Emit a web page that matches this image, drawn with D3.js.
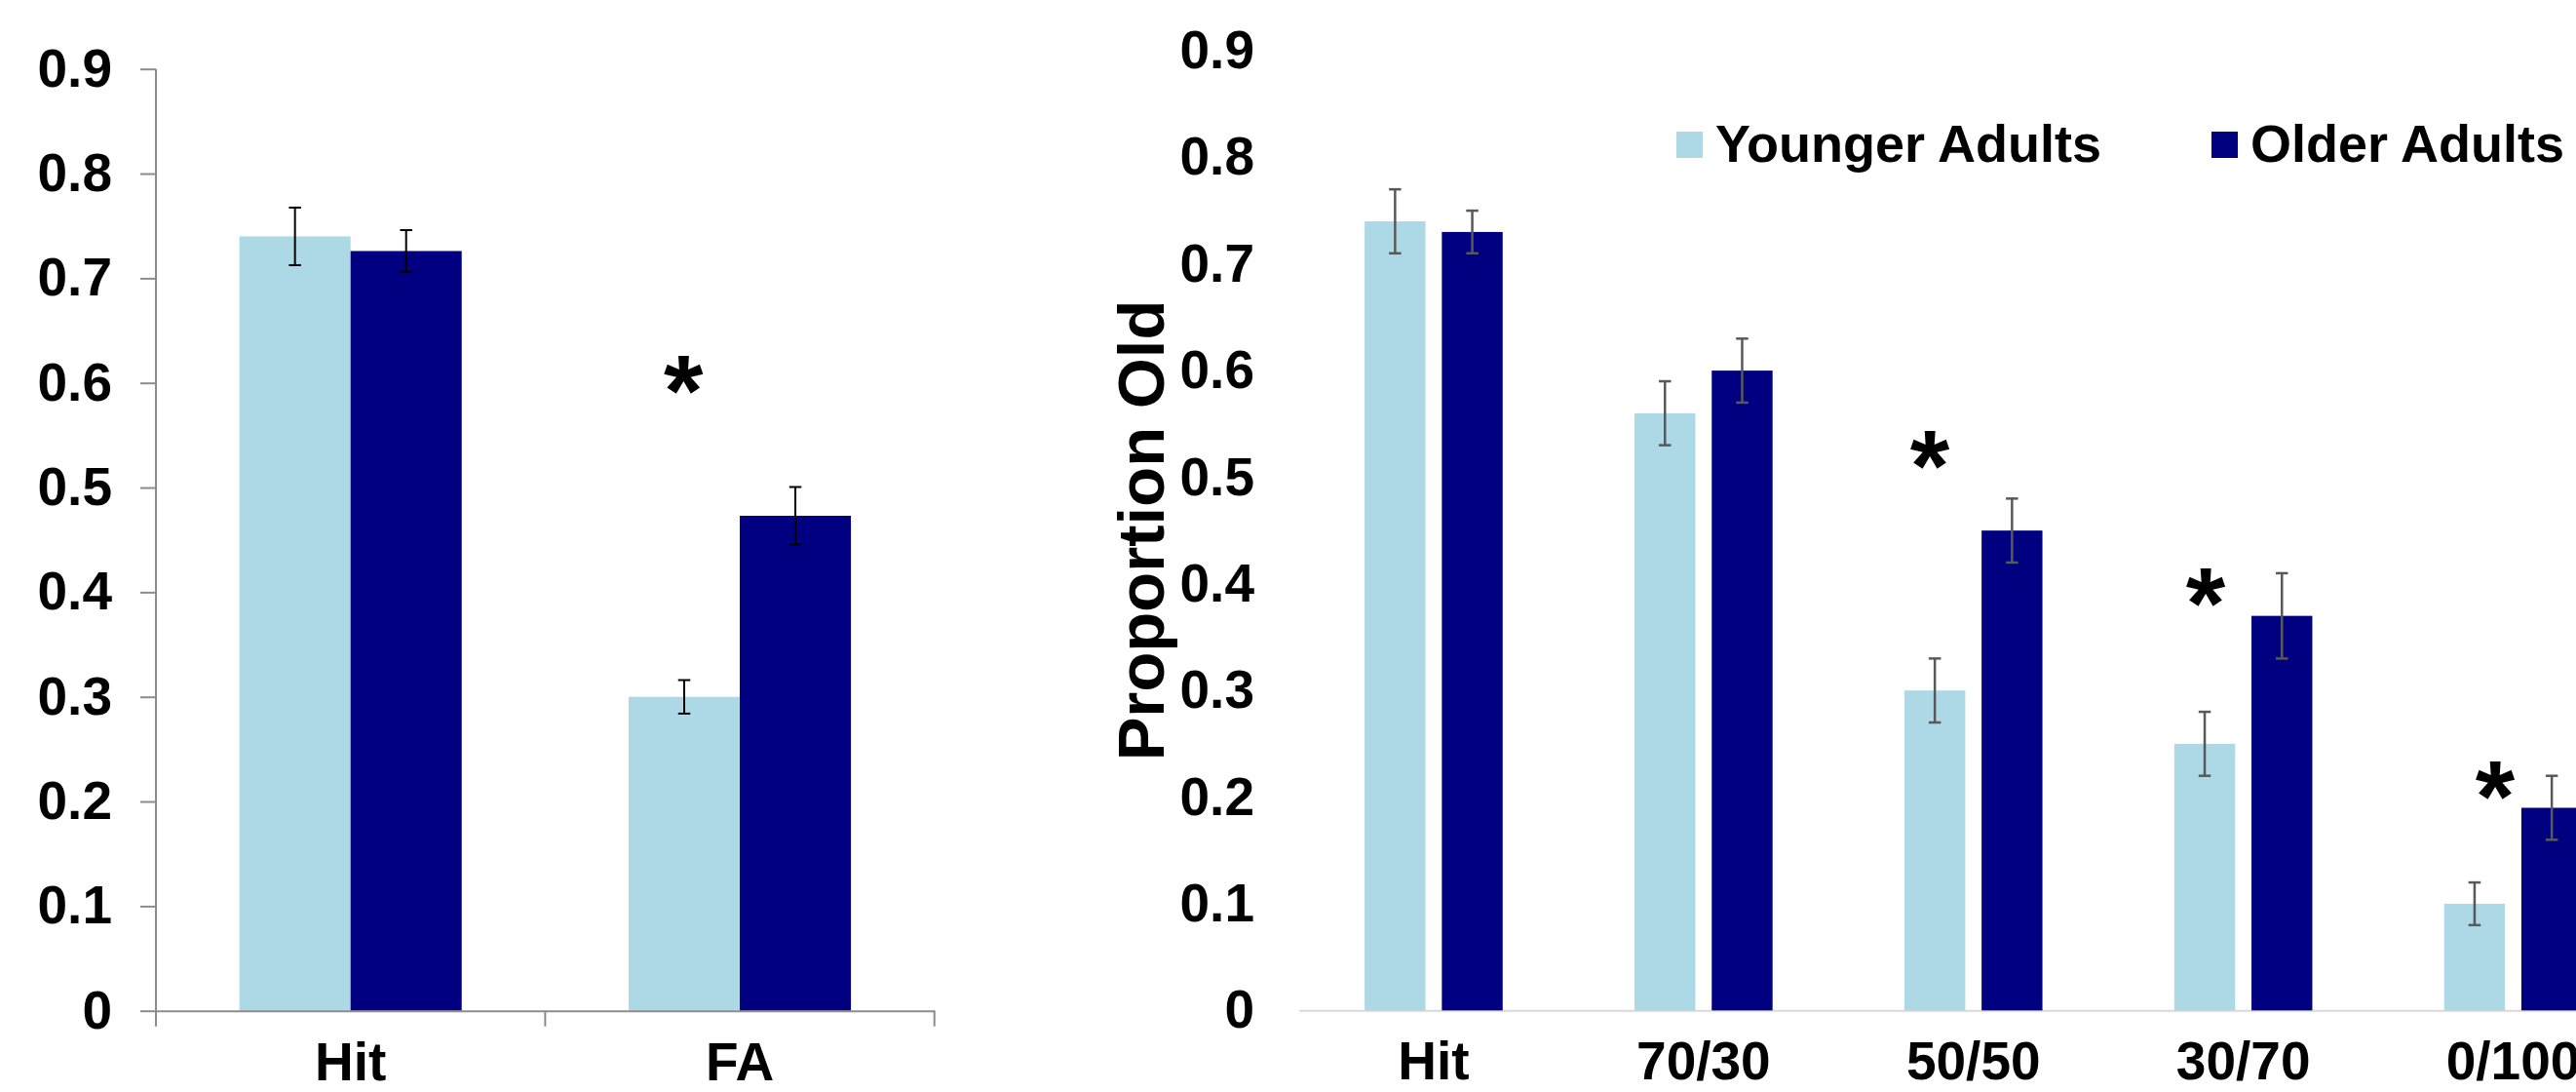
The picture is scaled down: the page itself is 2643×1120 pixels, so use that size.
<!DOCTYPE html>
<html>
<head>
<meta charset="utf-8">
<script src="https://cdn.jsdelivr.net/npm/d3@7"></script>
<style>
  html, body { margin: 0; padding: 0; background: #ffffff; }
  svg { display: block; }
  text { font-family: "Liberation Sans", Arial, sans-serif; font-weight: bold; fill: #000; }
</style>
</head>
<body>
<svg id="chart" width="2643" height="1120"></svg>
<script>
// ---------- DATA ----------
const seriesNames = ["Younger Adults", "Older Adults"];
const seriesColors = ["#ADD8E6", "#000080"];

// Left panel
const categoriesL = ["Hit", "FA"];
const youngerL = [0.74, 0.30];
const olderL = [0.726, 0.473];
const youngerErrL = [0.0275, 0.016];
const olderErrL = [0.02, 0.0275];
const sigCatsL = ["FA"];
const sigValuesL = [0.604];
const sigPosL = [0.355];

// Right panel
const categoriesR = ["Hit", "70/30", "50/50", "30/70", "0/100"];
const youngerR = [0.74, 0.56, 0.30, 0.25, 0.10];
const olderR = [0.73, 0.60, 0.45, 0.37, 0.19];
const youngerErrR = [0.03, 0.03, 0.03, 0.03, 0.02];
const olderErrR = [0.02, 0.03, 0.03, 0.04, 0.03];
const sigCatsR = ["50/50", "30/70", "0/100"];
const sigValuesR = [0.522, 0.393, 0.212];
const sigPosR = [0.338, 0.360, 0.433];

const yTicks = [0, 0.1, 0.2, 0.3, 0.4, 0.5, 0.6, 0.7, 0.8, 0.9];
const yTickLabels = ["0", "0.1", "0.2", "0.3", "0.4", "0.5", "0.6", "0.7", "0.8", "0.9"];
const yTitleR = "Proportion Old";

// ---------- DRAW ----------
const svg = d3.select("#chart");
const FS = 55;

function rows(cats, yv, ov, ye, oe) {
  return cats.map((c, i) => ({ cat: c, vals: [
    { s: seriesNames[0], v: yv[i], e: ye[i] },
    { s: seriesNames[1], v: ov[i], e: oe[i] }
  ]}));
}

function drawBars(g, data, x, x1, y, errColor, errWidth, capW) {
  const grp = g.selectAll("g.cat").data(data).join("g")
    .attr("class", "cat")
    .attr("transform", d => `translate(${x(d.cat)},0)`);
  grp.selectAll("rect").data(d => d.vals).join("rect")
    .attr("x", d => x1(d.s))
    .attr("width", x1.bandwidth())
    .attr("y", d => y(d.v))
    .attr("height", d => y(0) - y(d.v))
    .attr("fill", (d, i) => seriesColors[i]);
  const eb = grp.selectAll("g.err").data(d => d.vals).join("g").attr("class", "err")
    .attr("stroke", errColor).attr("stroke-width", errWidth);
  eb.append("line")
    .attr("x1", d => x1(d.s) + x1.bandwidth() / 2).attr("x2", d => x1(d.s) + x1.bandwidth() / 2)
    .attr("y1", d => y(d.v + d.e)).attr("y2", d => y(d.v - d.e));
  eb.append("line")
    .attr("x1", d => x1(d.s) + x1.bandwidth() / 2 - capW / 2).attr("x2", d => x1(d.s) + x1.bandwidth() / 2 + capW / 2)
    .attr("y1", d => y(d.v + d.e)).attr("y2", d => y(d.v + d.e));
  eb.append("line")
    .attr("x1", d => x1(d.s) + x1.bandwidth() / 2 - capW / 2).attr("x2", d => x1(d.s) + x1.bandwidth() / 2 + capW / 2)
    .attr("y1", d => y(d.v - d.e)).attr("y2", d => y(d.v - d.e));
}

function drawSig(g, cats, vals, pos, x, y) {
  const size = 104;
  g.selectAll("text.sig").data(cats).join("text")
    .attr("class", "sig")
    .attr("text-anchor", "middle")
    .attr("font-size", size)
    .attr("x", (c, i) => x(c) + pos[i] * x.bandwidth())
    .attr("y", (c, i) => y(vals[i]) + 0.47 * size)
    .text("*");
}

// ----- Left panel -----
{
  const g = svg.append("g");
  const y = d3.scaleLinear().domain([0, 0.9]).range([1036.7, 70.7]);
  const x = d3.scaleBand().domain(categoriesL).range([160, 958.7]).paddingInner(0).paddingOuter(0);
  const x1 = d3.scaleBand().domain(seriesNames).range([0, x.bandwidth()]).paddingInner(0).paddingOuter(0.751);

  drawBars(g, rows(categoriesL, youngerL, olderL, youngerErrL, olderErrL), x, x1, y, "#000", 2, 12.5);

  const ya = g.append("g").attr("transform", "translate(160,0)")
    .call(d3.axisLeft(y).tickValues(yTicks).tickSize(16).tickSizeOuter(0).tickPadding(29)
      .tickFormat((d, i) => yTickLabels[i]));
  ya.selectAll("path, line").attr("stroke", "#8c8c8c").attr("stroke-width", 2);
  ya.selectAll("text").attr("font-size", FS).attr("font-family", null);
  ya.select(".domain").attr("d", `M0,${y(0.9)}V${y(0) + 16}`);

  const xa = g.append("g").attr("transform", `translate(0,${y(0)})`)
    .call(d3.axisBottom(x).tickSize(0).tickSizeOuter(0).tickPadding(32));
  xa.select(".domain").attr("stroke", "#8c8c8c").attr("stroke-width", 2);
  xa.selectAll("text").attr("font-size", FS).attr("font-family", null);
  const seps = categoriesL.map(c => x(c)).concat([x.range()[1]]).slice(1);
  xa.selectAll("line.sep").data(seps).join("line").attr("class", "sep")
    .attr("x1", d => d).attr("x2", d => d).attr("y1", 0).attr("y2", 16)
    .attr("stroke", "#8c8c8c").attr("stroke-width", 2);

  drawSig(g, sigCatsL, sigValuesL, sigPosL, x, y);
}

// ----- Right panel -----
{
  const g = svg.append("g");
  const y = d3.scaleLinear().domain([0, 0.9]).range([1036.3, 52]);
  const x0 = 1332.5, step = 276.9;
  const x = d3.scaleBand().domain(categoriesR).range([x0, x0 + step * categoriesR.length]).paddingInner(0).paddingOuter(0);
  const x1 = d3.scaleBand().domain(seriesNames).range([0, x.bandwidth()]).paddingInner(0.212).paddingOuter(0.854);

  const xa = g.append("g").attr("transform", `translate(0,${y(0)})`)
    .call(d3.axisBottom(x).tickSize(0).tickSizeOuter(0).tickPadding(32));
  xa.select(".domain").attr("stroke", "#d9d9d9").attr("stroke-width", 2);
  xa.selectAll("text").attr("font-size", FS).attr("font-family", null);

  drawBars(g, rows(categoriesR, youngerR, olderR, youngerErrR, olderErrR), x, x1, y, "#595959", 2.5, 12.5);

  const ya = g.append("g").attr("transform", `translate(${x0},0)`)
    .call(d3.axisLeft(y).tickValues(yTicks).tickSize(0).tickPadding(45.5)
      .tickFormat((d, i) => yTickLabels[i]));
  ya.select(".domain").remove();
  ya.selectAll("text").attr("font-size", FS).attr("font-family", null);

  g.append("text")
    .attr("transform", "translate(1193.7,544) rotate(-90)")
    .attr("text-anchor", "middle")
    .attr("font-size", 67)
    .text(yTitleR);

  drawSig(g, sigCatsR, sigValuesR, sigPosR, x, y);

  // legend
  const legX = [1720, 2269];
  const lg = g.selectAll("g.leg").data(seriesNames).join("g").attr("class", "leg")
    .attr("transform", (d, i) => `translate(${legX[i]},135)`);
  lg.append("rect").attr("width", 27).attr("height", 27).attr("fill", (d, i) => seriesColors[i]);
  lg.append("text").attr("x", 40).attr("y", 30.7).attr("font-size", 54).text(d => d);
}
</script>
</body>
</html>
